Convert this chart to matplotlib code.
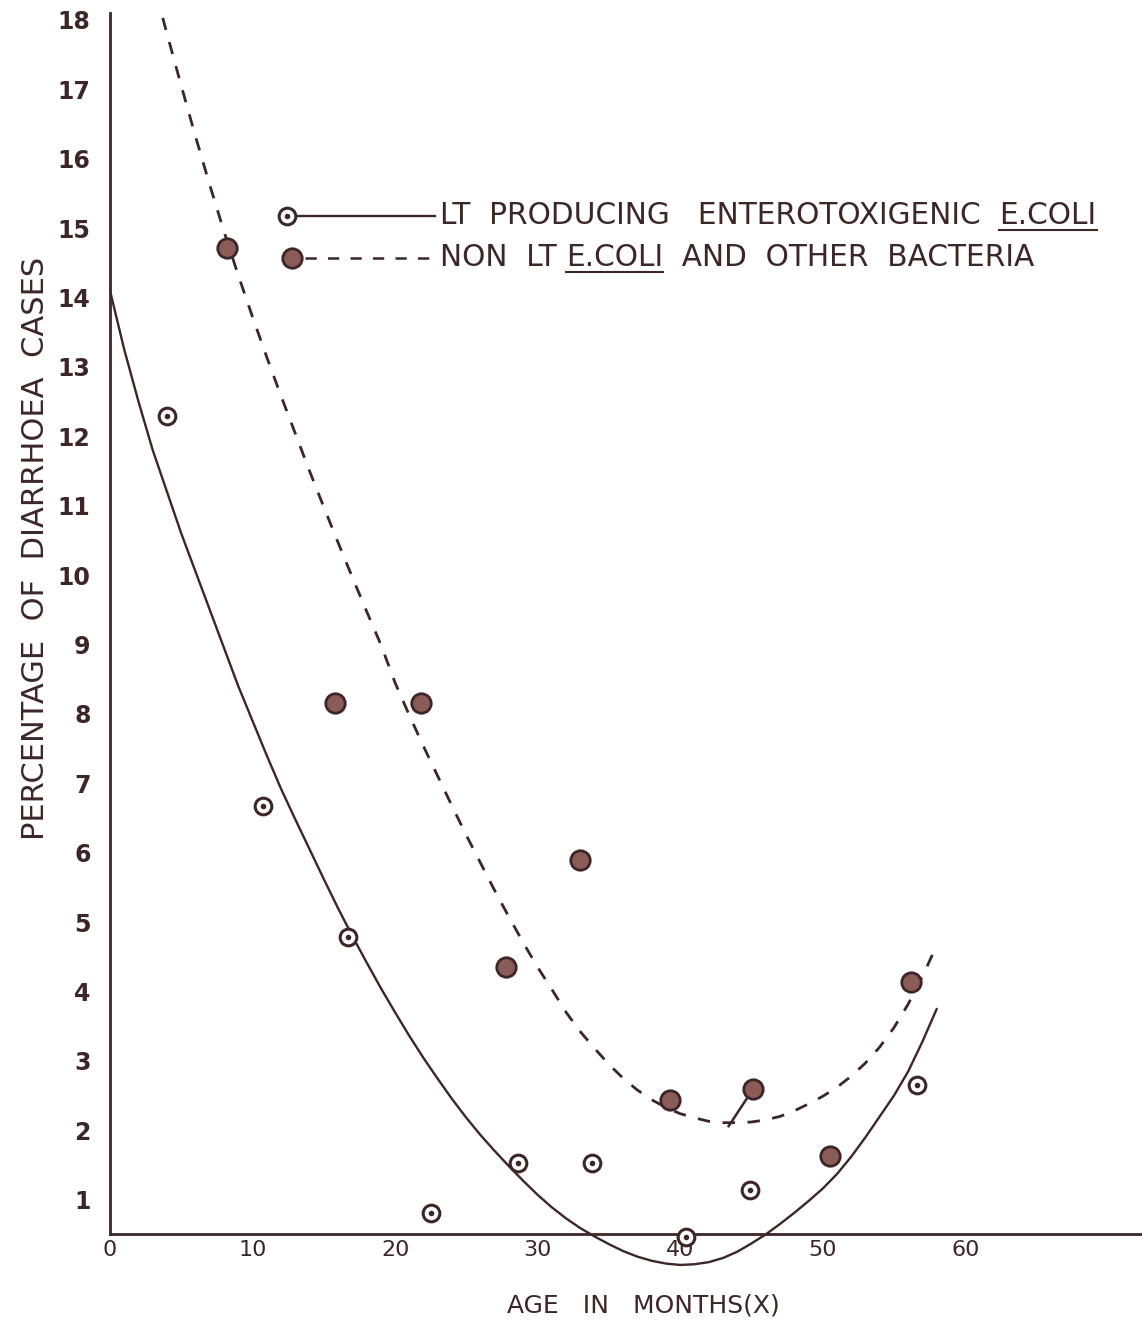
import matplotlib.pyplot as plt
from matplotlib.lines import Line2D

# observed percentages, LT producing enterotoxigenic E. coli (open circles)
lt_age = [4.0, 10.7, 16.7, 22.5, 28.6, 33.8, 40.4, 44.9, 56.6]
lt_pct = [12.3, 6.68, 4.79, 0.81, 1.53, 1.53, 0.47, 1.14, 2.66]

# observed percentages, non-LT E. coli and other bacteria (filled circles)
non_age = [8.2, 15.8, 21.8, 27.8, 33.0, 39.3, 45.1, 50.5, 56.2]
non_pct = [14.72, 8.16, 8.16, 4.36, 5.90, 2.44, 2.59, 1.63, 4.14]

lt_fit_x = list(range(0, 59))
lt_fit_y = [14.1, 13.25, 12.5, 11.8, 11.2, 10.6, 10.05, 9.5, 8.95, 8.4,
            7.9, 7.4, 6.92, 6.48, 6.05, 5.62, 5.2, 4.8, 4.42, 4.05,
            3.7, 3.36, 3.04, 2.74, 2.45, 2.18, 1.93, 1.7, 1.48, 1.27,
            1.07, 0.89, 0.73, 0.59, 0.47, 0.36, 0.26, 0.18, 0.12, 0.08,
            0.06, 0.07, 0.1, 0.16, 0.25, 0.37, 0.5, 0.65, 0.81, 0.98,
            1.16, 1.37, 1.62, 1.9, 2.2, 2.5, 2.85, 3.28, 3.75]

# hand-fitted curve through the non-LT points, read off at each month
non_fit_x = [3.7] + list(range(4, 58)) + [57.9]
non_fit_y = [18.03, 17.8, 17.05, 16.32, 15.62, 14.95, 14.32, 13.72, 13.14,
             12.58, 12.04, 11.5, 10.98, 10.47, 9.97, 9.48, 9.0, 8.45, 7.98,
             7.53, 7.1, 6.67, 6.25, 5.85, 5.45, 5.07, 4.7, 4.35, 4.03, 3.7,
             3.42, 3.18, 2.95, 2.75, 2.58, 2.44, 2.33, 2.24, 2.18, 2.13,
             2.11, 2.11, 2.12, 2.15, 2.2, 2.28, 2.38, 2.49, 2.62, 2.78,
             2.97, 3.2, 3.48, 3.82, 4.22, 4.62]

x_ticks = [0, 10, 20, 30, 40, 50, 60]
y_ticks = list(range(1, 19))

ink = '#3d2626'
dot_fill = '#8a5b57'

W, H = 1142, 1321
fig = plt.figure(figsize=(W / 100, H / 100), dpi=100)
fig.patch.set_facecolor('white')
ax = fig.add_axes([110 / W, 1 - 1283 / H, 1032 / W, 1270 / H])
ax.set_xlim(0, 72.4)
ax.set_ylim(-0.2, 18.1)

# axes drawn as two crossing lines, x axis sitting at y = 0.5
for s in ['top', 'right']:
    ax.spines[s].set_visible(False)
ax.spines['bottom'].set_position(('data', 0.5))
ax.spines['left'].set_bounds(0.5, 18.1)
for s in ['left', 'bottom']:
    ax.spines[s].set_color(ink)
    ax.spines[s].set_linewidth(2)

ax.set_xticks(x_ticks)
ax.set_yticks(y_ticks)
ax.tick_params(axis='both', length=0, colors=ink)
ax.tick_params(axis='y', pad=14, labelsize=17)
ax.tick_params(axis='x', pad=4, labelsize=16)
for lab in ax.get_yticklabels():
    lab.set_fontweight('bold')

# fitted curves
ax.plot(lt_fit_x, lt_fit_y, color=ink, lw=1.7, solid_capstyle='round')
ax.plot(non_fit_x, non_fit_y, color=ink, lw=2, linestyle=(0, (4.5, 4.5)))
# small lead from the 45-month point down to its curve
ax.plot([non_age[6], non_fit_x[40] + 0.4], [non_pct[6], non_fit_y[40] - 0.05],
        color=ink, lw=1.8)

# observed points
ax.plot(lt_age, lt_pct, 'o', ms=12, mfc='white', mec=ink, mew=2.2,
        linestyle='none', clip_on=False, zorder=4)
ax.plot(lt_age, lt_pct, 'o', ms=3, mfc=ink, mec=ink, linestyle='none',
        clip_on=False, zorder=5)
ax.plot(non_age, non_pct, 'o', ms=14, mfc=dot_fill, mec=ink, mew=2,
        linestyle='none', clip_on=False, zorder=4)

# axis titles
fig.text(36 / W, 1 - 548 / H, 'PERCENTAGE  OF  DIARRHOEA  CASES', rotation=90,
         ha='center', va='center', fontsize=22, color=ink)
fig.text(643 / W, 1 - 1306 / H, 'AGE   IN   MONTHS(X)', ha='center',
         va='center', fontsize=18, color=ink)


def fpt(px, py):
    return px / W, 1 - py / H


# key, drawn by hand in figure coordinates
x0, y0 = fpt(297, 216)
x1, _ = fpt(435, 216)
fig.add_artist(Line2D([x0, x1], [y0, y0], color=ink, lw=1.7))
fig.add_artist(Line2D([fpt(287, 0)[0]], [y0], marker='o', ms=12, mfc='white',
                      mec=ink, mew=2.2))
fig.add_artist(Line2D([fpt(287, 0)[0]], [y0], marker='o', ms=3, mfc=ink,
                      mec=ink))
x0, y1 = fpt(305, 258)
fig.add_artist(Line2D([x0, x1], [y1, y1], color=ink, lw=1.8,
                      linestyle=(0, (4.5, 4.5))))
fig.add_artist(Line2D([fpt(292, 0)[0]], [y1], marker='o', ms=14, mfc=dot_fill,
                      mec=ink, mew=2))

key_font = dict(fontsize=21.3, color=ink, va='center')
t1 = fig.text(fpt(440, 0)[0], y0, 'LT  PRODUCING   ENTEROTOXIGENIC  ', **key_font)
c1 = ax.annotate('E.COLI', xy=(1, 0.5), xycoords=t1, ha='left', **key_font)
t2 = fig.text(fpt(440, 0)[0], y1, 'NON  LT ', **key_font)
c2 = ax.annotate('E.COLI', xy=(1, 0.5), xycoords=t2, ha='left', **key_font)
ax.annotate('  AND  OTHER  BACTERIA', xy=(1, 0.5), xycoords=c2, ha='left',
            **key_font)

# underline the organism names
fig.canvas.draw()
for t in (c1, c2):
    bb = t.get_window_extent()
    fig.add_artist(Line2D([bb.x0 / W, bb.x1 / W], [(bb.y0 + 1) / H] * 2,
                          color=ink, lw=1.5))

fig.savefig('out.png', dpi=100, facecolor='white')
